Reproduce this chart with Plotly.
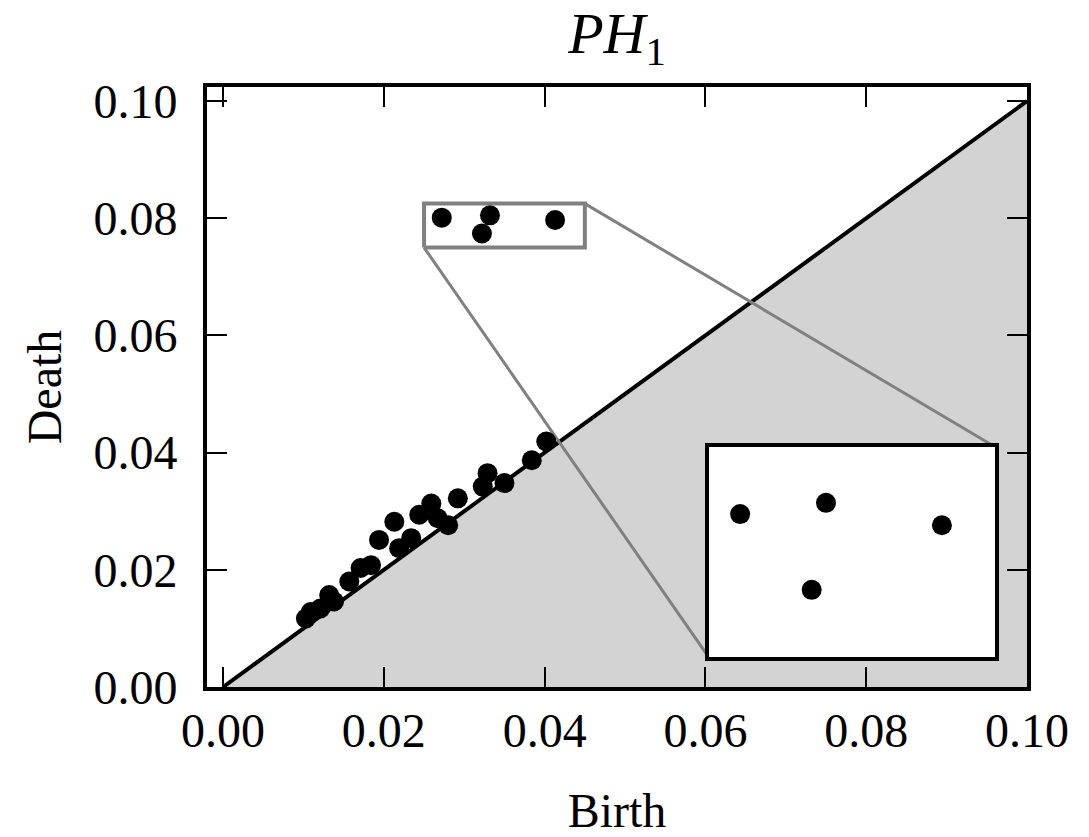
import plotly.graph_objects as go

# Persistence diagram (H1): birth / death pairs near the diagonal
birth = [0.0103, 0.0109, 0.0121, 0.0132, 0.0138, 0.0157, 0.0171, 0.0184,
         0.0194, 0.0213, 0.0219, 0.0234, 0.0244, 0.0259, 0.0267, 0.0280,
         0.0292, 0.0323, 0.0329, 0.0350, 0.0384, 0.0402]
death = [0.0117, 0.0128, 0.0134, 0.0157, 0.0146, 0.0180, 0.0203, 0.0208,
         0.0251, 0.0282, 0.0237, 0.0254, 0.0294, 0.0313, 0.0288, 0.0276,
         0.0322, 0.0342, 0.0365, 0.0348, 0.0387, 0.0419]

# Long-lived features far from the diagonal
birth_hi = [0.0272, 0.0332, 0.0413, 0.0322]
death_hi = [0.0801, 0.0805, 0.0797, 0.0774]

# Zoom window and inset placement (data coordinates)
zoom_x = [0.025, 0.045]
zoom_y = [0.075, 0.0825]
inset_x = [0.0604, 0.0960]
inset_y = [0.0051, 0.0410]

x_range = [-0.002, 0.1]
y_range = [0.0, 0.1024]
ticks = [0.0, 0.02, 0.04, 0.06, 0.08, 0.10]
tick_text = ["0.00", "0.02", "0.04", "0.06", "0.08", "0.10"]

FONT = "Liberation Serif"
GRAY = "#808080"

fig = go.Figure()

# shaded region below the diagonal
fig.add_trace(go.Scatter(
    x=[0, 0.1, 0.1, 0], y=[0, 0, 0.1, 0], mode="lines", fill="toself",
    fillcolor="#d3d3d3", line=dict(width=0), hoverinfo="skip", showlegend=False))
# diagonal
fig.add_trace(go.Scatter(
    x=[0, 0.1], y=[0, 0.1], mode="lines", line=dict(color="black", width=4),
    hoverinfo="skip", showlegend=False))

# zoom rectangle and connectors to the inset
fig.add_trace(go.Scatter(
    x=[zoom_x[0], zoom_x[1], zoom_x[1], zoom_x[0], zoom_x[0]],
    y=[zoom_y[0], zoom_y[0], zoom_y[1], zoom_y[1], zoom_y[0]],
    mode="lines", line=dict(color=GRAY, width=4), showlegend=False, hoverinfo="skip"))
fig.add_trace(go.Scatter(
    x=[zoom_x[0], inset_x[0]], y=[zoom_y[0], inset_y[0]], mode="lines",
    line=dict(color=GRAY, width=3), showlegend=False, hoverinfo="skip"))
fig.add_trace(go.Scatter(
    x=[zoom_x[1], inset_x[1]], y=[zoom_y[1], inset_y[1]], mode="lines",
    line=dict(color=GRAY, width=3), showlegend=False, hoverinfo="skip"))

# points
fig.add_trace(go.Scatter(
    x=birth + birth_hi, y=death + death_hi, mode="markers",
    marker=dict(color="black", size=20, line=dict(width=0)), showlegend=False))

# inset points
fig.add_trace(go.Scatter(
    x=birth_hi, y=death_hi, mode="markers", xaxis="x2", yaxis="y2",
    marker=dict(color="black", size=20, line=dict(width=0)), showlegend=False))

L, R, T, B = 207, 62, 87, 150
W, H = 1089, 837


def to_dom_x(v):
    return (v - x_range[0]) / (x_range[1] - x_range[0])


def to_dom_y(v):
    return (v - y_range[0]) / (y_range[1] - y_range[0])


axis_common = dict(
    showline=True, linecolor="black", linewidth=4, mirror="ticks",
    ticks="inside", ticklen=20, tickwidth=2, tickcolor="black",
    showgrid=False, zeroline=False, automargin=False,
    tickfont=dict(family=FONT, size=48, color="black"),
    tickvals=ticks, ticktext=tick_text,
)

fig.update_layout(
    width=W, height=H,
    margin=dict(l=L, r=R, t=T, b=B),
    paper_bgcolor="white", plot_bgcolor="white",
    title=dict(text="<i>PH</i><sub>1</sub>", x=0.5 * (L + W - R) / W, xanchor="center",
               y=0.985, yanchor="top", yref="container",
               font=dict(family=FONT, size=58, color="black")),
    xaxis=dict(range=x_range, domain=[0, 1],
               title=dict(text="Birth", font=dict(family=FONT, size=48, color="black"), standoff=45),
               ticklabelstandoff=-2, **axis_common),
    yaxis=dict(range=y_range, domain=[0, 1],
               title=dict(text="Death", font=dict(family=FONT, size=48, color="black"), standoff=18),
               ticklabelstandoff=16, **axis_common),
    xaxis2=dict(range=zoom_x, domain=[to_dom_x(inset_x[0]), to_dom_x(inset_x[1])],
                anchor="y2", showline=True, mirror=True, linecolor="black", linewidth=4,
                showticklabels=False, ticks="", showgrid=False, zeroline=False),
    yaxis2=dict(range=zoom_y, domain=[to_dom_y(inset_y[0]), to_dom_y(inset_y[1])],
                anchor="x2", showline=True, mirror=True, linecolor="black", linewidth=4,
                showticklabels=False, ticks="", showgrid=False, zeroline=False),
)

fig.write_html("out.html")
